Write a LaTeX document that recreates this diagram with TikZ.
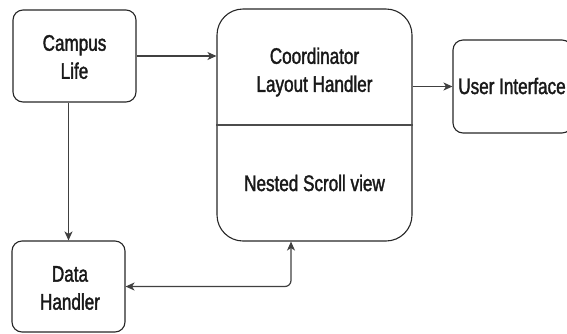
\documentclass[tikz,border=0pt]{standalone}
\usepackage{fontspec}
\newfontfamily\labfont[FakeStretch=0.76,FakeBold=1.6]{Liberation Sans}
\usetikzlibrary{arrows.meta}
\begin{document}
\begin{tikzpicture}[x=1pt,y=-1pt,
  box/.style={draw=black!85, line width=1.1pt, rounded corners=10pt, inner sep=0pt},
  lbl/.style={align=center, inner sep=0pt, text=black!90, font=\labfont\fontsize{22.5}{28}\selectfont},
  arr/.style={draw=black!75, line width=1.2pt, -{Stealth[length=9pt,width=8pt,inset=2.5pt]}},
  arrb/.style={draw=black!75, line width=1.2pt, {Stealth[length=9pt,width=8pt,inset=2.5pt]}-{Stealth[length=9pt,width=8pt,inset=2.5pt]}, rounded corners=6pt}]
\useasboundingbox (0,0) rectangle (567,333);
\node[box, minimum width=123pt, minimum height=92pt] (campus) at (74.5,56) {};
\node[box, minimum width=195pt, minimum height=232pt, rounded corners=26pt] (coord) at (314.5,125) {};
\node[box, minimum width=119pt, minimum height=93pt] (ui) at (512.5,86.5) {};
\node[box, minimum width=113pt, minimum height=91pt] (data) at (68.5,286.5) {};
\draw[draw=black!70, line width=1.1pt] (coord.west) -- (coord.east);
\node[lbl] (tcampus) at (74.5,57) {Campus\\Life};
\node[lbl] (tcoord) at (314.5,72) {Coordinator\\Layout Handler};
\node[lbl] (tnested) at (314.5,183) {Nested Scroll view};
\node[lbl] (tui) at (512,86) {User Interface};
\node[lbl] (tdata) at (70,288) {Data\\Handler};
\draw[arr] (campus.east) -- (campus.east -| coord.west);
\draw[arr] (campus.south -| data.north) -- (data.north);
\draw[arr] (ui.west -| coord.east) -- (ui.west);
\draw[arrb] (data.east) -| ([xshift=-23.5pt]coord.south);
\end{tikzpicture}
\end{document}
